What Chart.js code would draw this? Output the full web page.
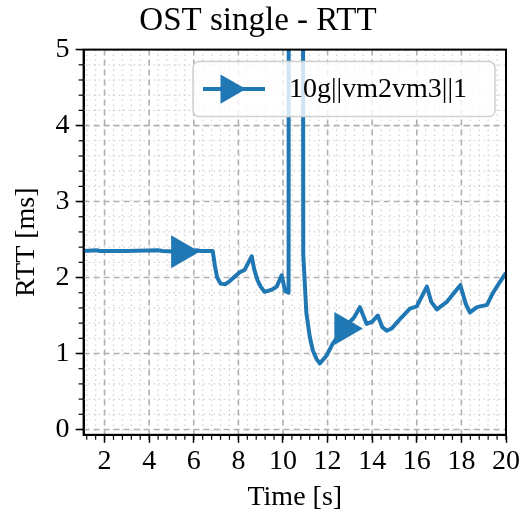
<!DOCTYPE html>
<html>
<head>
<meta charset="utf-8">
<script src="https://cdn.jsdelivr.net/npm/chart.js@4"></script>
<style>
    html, body { margin: 0; padding: 0; background: #ffffff; }
    #wrap { width: 526px; height: 524px; }
</style>
</head>
<body>
<div id="wrap"><canvas id="rttChart"></canvas></div>
<script>

// time [s] and RTT [ms]
const timeS = [
    1.06, 1.64, 1.8, 3.0, 4.38, 4.6, 5.41, 6.13, 6.3, 6.85,
    6.95, 7.05, 7.2, 7.4, 7.6, 8.06, 8.28, 8.6, 8.7, 8.85,
    9.0, 9.18, 9.5, 9.72, 9.94, 10.1, 10.25, 10.27, 10.88, 10.91,
    11.05, 11.2, 11.34, 11.5, 11.65, 11.95, 12.23, 12.73, 13.2, 13.45,
    13.75, 14.0, 14.25, 14.45, 14.65, 14.88, 15.3, 15.69, 16.0, 16.45,
    16.65, 16.9, 17.35, 17.95, 18.2, 18.38, 18.7, 19.15, 19.42, 19.7,
    20.0
];
const rttMs = [
    2.35, 2.36, 2.35, 2.35, 2.36, 2.35, 2.34, 2.36, 2.35, 2.35,
    2.15, 2.0, 1.92, 1.91, 1.95, 2.07, 2.10, 2.28, 2.12, 1.97,
    1.88, 1.81, 1.84, 1.88, 2.03, 1.82, 1.80, 12, 12, 2.3,
    1.53, 1.22, 1.04, 0.93, 0.87, 0.97, 1.13, 1.33, 1.48, 1.61,
    1.39, 1.42, 1.50, 1.35, 1.30, 1.33, 1.47, 1.59, 1.62, 1.88,
    1.68, 1.58, 1.68, 1.90, 1.65, 1.54, 1.61, 1.64, 1.80, 1.93,
    2.06
];
// times where the triangle markers sit
const markerTimes = [5.41, 12.73];

const xTicks = [2, 4, 6, 8, 10, 12, 14, 16, 18, 20];
const yTicks = [0, 1, 2, 3, 4, 5];

const seriesLabel = '10g||vm2vm3||1';
const LINE_COLOR = '#1f77b4';
const FONT = 'Liberation Serif, DejaVu Serif, serif';

const points = timeS.map((t, i) => ({ x: t, y: rttMs[i] }));

function drawTriangle(ctx, cx, cy, r) {
    // right-pointing triangle, centroid at (cx, cy)
    ctx.beginPath();
    ctx.moveTo(cx + r, cy);
    ctx.lineTo(cx - r / 2, cy - r * Math.sqrt(3) / 2);
    ctx.lineTo(cx - r / 2, cy + r * Math.sqrt(3) / 2);
    ctx.closePath();
    ctx.fill();
}

const mplGrid = {
    id: 'mplGrid',
    beforeDatasetsDraw(chart) {
        const { ctx, chartArea: a, scales: { x, y } } = chart;
        ctx.save();
        ctx.beginPath();
        ctx.rect(a.left, a.top, a.right - a.left, a.bottom - a.top);
        ctx.clip();

        // minor dotted grid
        ctx.strokeStyle = '#cfcfcf';
        ctx.lineWidth = 1.2;
        ctx.setLineDash([1.5, 3.5]);
        for (let k = 1; k * 0.4 <= 20.001; k++) {
            const v = k * 0.4;
            if (Math.abs(v / 2 - Math.round(v / 2)) < 1e-6) continue;
            const px = x.getPixelForValue(v);
            ctx.beginPath(); ctx.moveTo(px, a.top); ctx.lineTo(px, a.bottom); ctx.stroke();
        }
        for (let k = 0; k * 0.2 <= 5.001; k++) {
            const v = k * 0.2;
            if (Math.abs(v - Math.round(v)) < 1e-6) continue;
            const py = y.getPixelForValue(v);
            ctx.beginPath(); ctx.moveTo(a.left, py); ctx.lineTo(a.right, py); ctx.stroke();
        }

        // major dashed grid
        ctx.strokeStyle = '#b0b0b0';
        ctx.lineWidth = 1.6;
        ctx.setLineDash([6, 4]);
        xTicks.forEach(v => {
            const px = x.getPixelForValue(v);
            ctx.beginPath(); ctx.moveTo(px, a.top); ctx.lineTo(px, a.bottom); ctx.stroke();
        });
        yTicks.forEach(v => {
            const py = y.getPixelForValue(v);
            ctx.beginPath(); ctx.moveTo(a.left, py); ctx.lineTo(a.right, py); ctx.stroke();
        });
        ctx.restore();
    },
    afterDatasetsDraw(chart) {
        const { ctx, chartArea: a, scales: { x, y } } = chart;
        ctx.save();
        ctx.setLineDash([]);

        // minor ticks, outward
        ctx.strokeStyle = '#000';
        ctx.lineWidth = 1.2;
        for (let k = 1; k * 0.4 <= 20.001; k++) {
            const v = k * 0.4;
            if (v < x.min) continue;
            const px = x.getPixelForValue(v);
            ctx.beginPath(); ctx.moveTo(px, a.bottom); ctx.lineTo(px, a.bottom + 5); ctx.stroke();
        }
        for (let k = 0; k * 0.2 <= 5.001; k++) {
            const py = y.getPixelForValue(k * 0.2);
            ctx.beginPath(); ctx.moveTo(a.left, py); ctx.lineTo(a.left - 5, py); ctx.stroke();
        }

        // frame
        ctx.lineWidth = 2;
        ctx.strokeRect(a.left, a.top, a.right - a.left, a.bottom - a.top);

        // legend
        const w = 302, h = 55;
        const lx = a.right - 11 - w, ly = a.top + 12;
        ctx.beginPath();
        ctx.roundRect(lx, ly, w, h, 6);
        ctx.fillStyle = 'rgba(255,255,255,0.8)';
        ctx.fill();
        ctx.strokeStyle = '#d0d0d0';
        ctx.lineWidth = 1.5;
        ctx.stroke();

        const cy = ly + h / 2;
        ctx.strokeStyle = LINE_COLOR;
        ctx.lineWidth = 4;
        ctx.beginPath(); ctx.moveTo(lx + 10, cy); ctx.lineTo(lx + 72, cy); ctx.stroke();
        ctx.fillStyle = LINE_COLOR;
        drawTriangle(ctx, lx + 36, cy, 17);

        ctx.fillStyle = '#000';
        ctx.font = '28px ' + FONT;
        ctx.textBaseline = 'middle';
        ctx.fillText(seriesLabel, lx + 96, cy + 1);
        ctx.restore();
    }
};

const ctxRtt = document.getElementById('rttChart');

var data = {
    datasets: [
        {
            label: seriesLabel,
            data: points,
            borderColor: LINE_COLOR,
            backgroundColor: LINE_COLOR,
            borderWidth: 4,
            tension: 0,
            borderJoinStyle: 'round',
            pointStyle: 'triangle',
            rotation: 90,
            pointRadius: c => markerTimes.includes(timeS[c.dataIndex]) ? 19 : 0,
            pointBorderWidth: 0,
            clip: true,
        }
    ]
};

var config = {
    type: 'line',
    data: data,
    options: {
        responsive: true,
        maintainAspectRatio: false,
        animation: false,
        events: [],
        layout: { padding: { left: 10, right: 20, top: 0, bottom: 10 } },
        plugins: {
            legend: { display: false },
            tooltip: { enabled: false },
            title: {
                display: true,
                text: 'OST single - RTT',
                color: '#000',
                font: { family: FONT, size: 33, weight: 'normal' },
                padding: { top: 2, bottom: 8 }
            }
        },
        scales: {
            x: {
                type: 'linear',
                min: 1.06,
                max: 20,
                afterBuildTicks: s => { s.ticks = xTicks.map(v => ({ value: v })); },
                ticks: { color: '#000', font: { family: FONT, size: 28 }, padding: 2, maxRotation: 0, autoSkip: false },
                grid: { drawOnChartArea: false, drawTicks: true, tickLength: 8, tickColor: '#000', tickWidth: 1.5 },
                border: { display: true, color: '#000', width: 2 },
                title: { display: true, text: 'Time [s]', color: '#000', font: { family: FONT, size: 28 }, padding: { top: 0, bottom: 0 } }
            },
            y: {
                type: 'linear',
                min: -0.07,
                max: 5,
                afterBuildTicks: s => { s.ticks = yTicks.map(v => ({ value: v })); },
                ticks: { color: '#000', font: { family: FONT, size: 28 }, padding: 6, autoSkip: false },
                grid: { drawOnChartArea: false, drawTicks: true, tickLength: 8, tickColor: '#000', tickWidth: 1.5 },
                border: { display: true, color: '#000', width: 2 },
                title: { display: true, text: 'RTT [ms]', color: '#000', font: { family: FONT, size: 28 }, padding: { top: 0, bottom: 6 } }
            }
        }
    },
    plugins: [mplGrid]
};

const chartRtt = new Chart(ctxRtt, config);
</script>
</body>
</html>
